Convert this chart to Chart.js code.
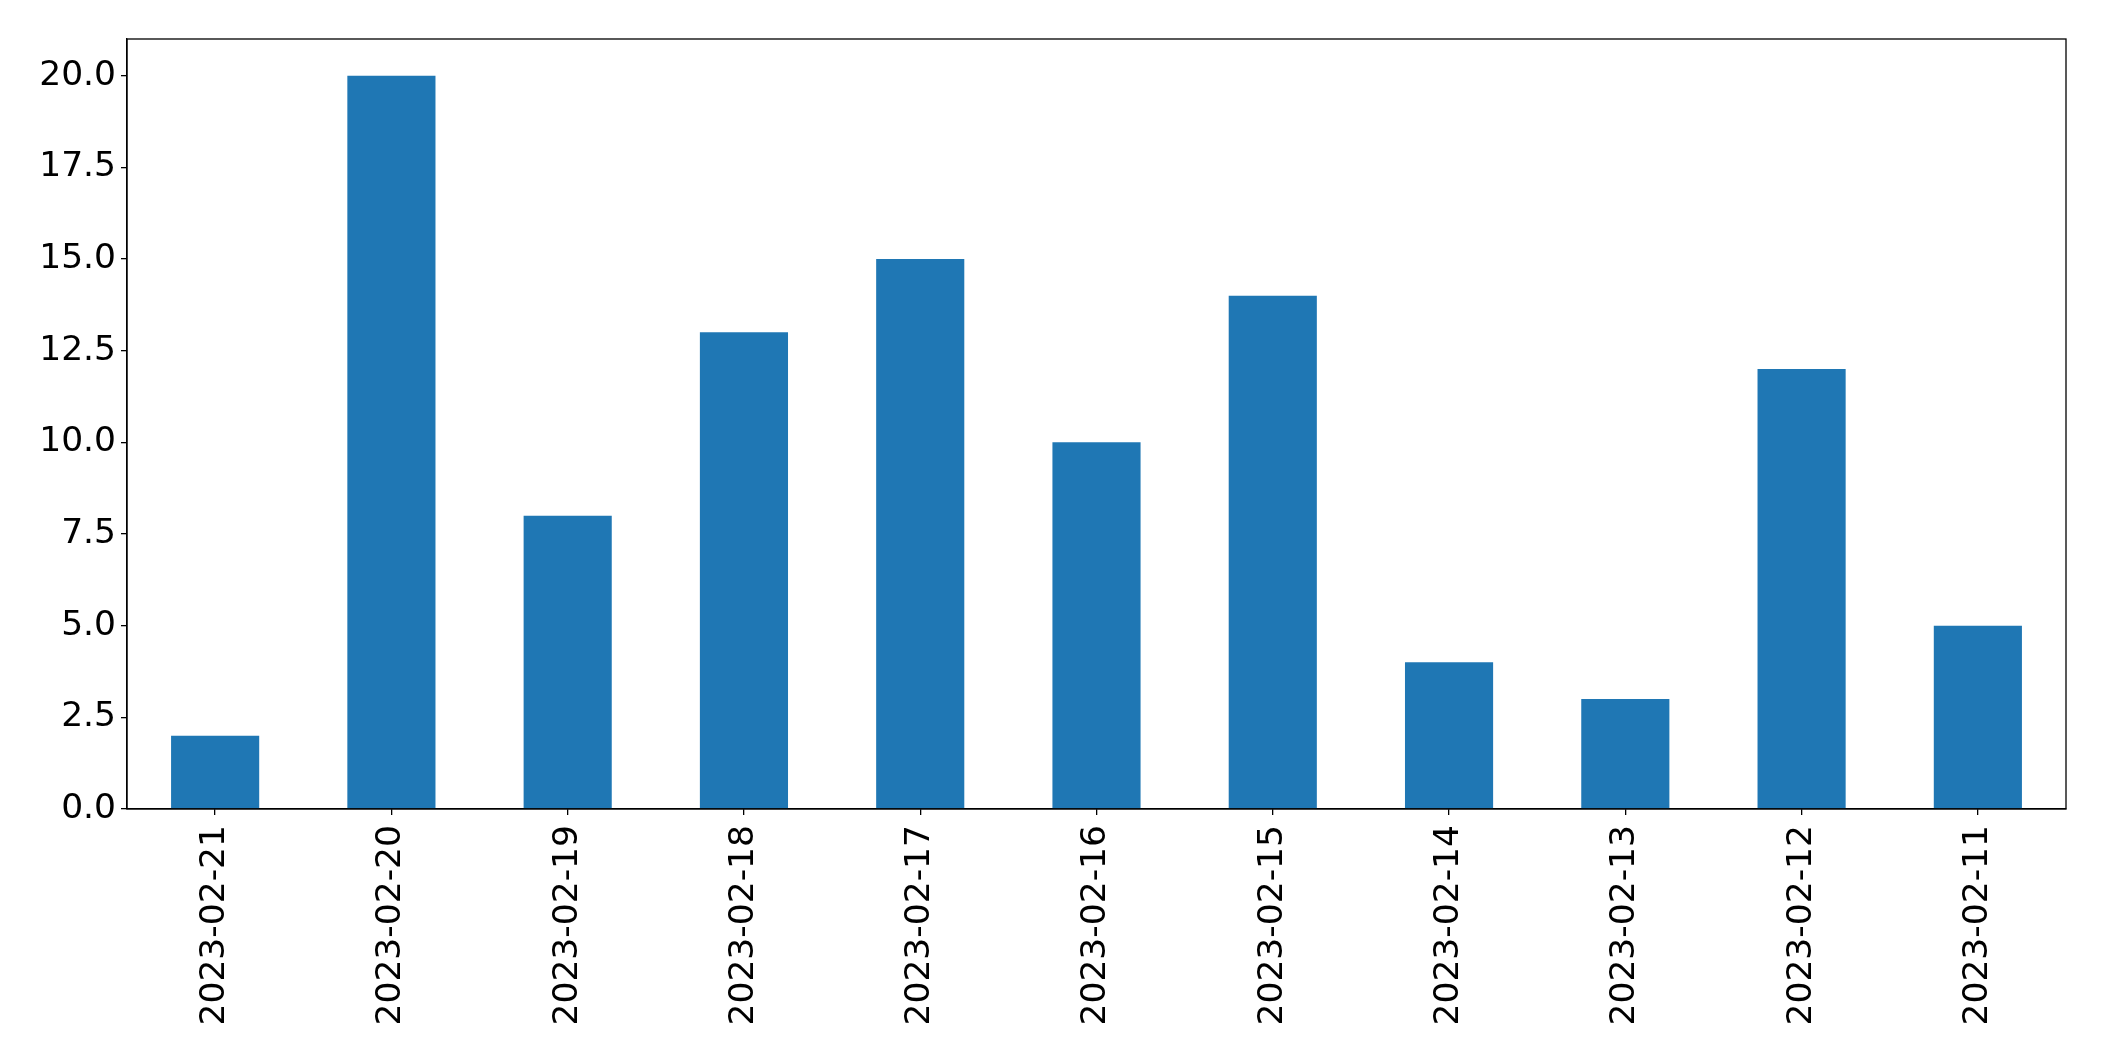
<!DOCTYPE html>
<html>
<head>
<meta charset="utf-8">
<script src="https://cdn.jsdelivr.net/npm/chart.js@4/dist/chart.umd.min.js"></script>
<style>
  html, body { margin: 0; padding: 0; background: #fff; }
  #wrap { width: 2104px; height: 1061px; position: relative; }
</style>
</head>
<body>
<div id="wrap"><canvas id="c" width="2104" height="1061"></canvas></div>
<script>
const categories = ["2023-02-21","2023-02-20","2023-02-19","2023-02-18","2023-02-17","2023-02-16","2023-02-15","2023-02-14","2023-02-13","2023-02-12","2023-02-11"];
const values = [2, 20, 8, 13, 15, 10, 14, 4, 3, 12, 5];
const yMin = 0, yMax = 21, yStep = 2.5;

const frame = {
  id: 'frame',
  afterDraw(chart) {
    const a = chart.chartArea, ctx = chart.ctx;
    ctx.save();
    ctx.strokeStyle = '#000';
    ctx.lineWidth = 1.3;
    ctx.strokeRect(a.left, a.top, a.right - a.left, a.bottom - a.top);
    ctx.restore();
  }
};

const font = { family: 'DejaVu Sans', size: 34.5 };

new Chart(document.getElementById('c'), {
  type: 'bar',
  data: {
    labels: categories,
    datasets: [{ data: values, backgroundColor: '#1f77b4', borderWidth: 0, categoryPercentage: 1.0, barPercentage: 0.5 }]
  },
  options: {
    responsive: false,
    animation: false,
    devicePixelRatio: 1,
    layout: { padding: { top: 39, right: 38, left: 0, bottom: 0 } },
    plugins: { legend: { display: false }, tooltip: { enabled: false } },
    scales: {
      x: {
        offset: true,
        grid: { display: true, offset: false, drawOnChartArea: false, drawTicks: true, tickLength: 6, color: '#000', lineWidth: 1.3 },
        border: { display: true, color: '#000', width: 1.3 },
        ticks: { color: '#000', font, minRotation: 90, maxRotation: 90, autoSkip: false, padding: 10 },
        afterFit(s) { s.height = 252; }
      },
      y: {
        min: yMin, max: yMax,
        grid: { display: true, drawOnChartArea: false, drawTicks: true, tickLength: 6, color: '#000', lineWidth: 1.3 },
        border: { display: true, color: '#000', width: 1.3 },
        ticks: { color: '#000', font, stepSize: yStep, includeBounds: false, padding: 5, callback: v => Number(v).toFixed(1) },
        afterFit(s) { s.width = 127; }
      }
    }
  },
  plugins: [frame]
});
</script>
</body>
</html>
